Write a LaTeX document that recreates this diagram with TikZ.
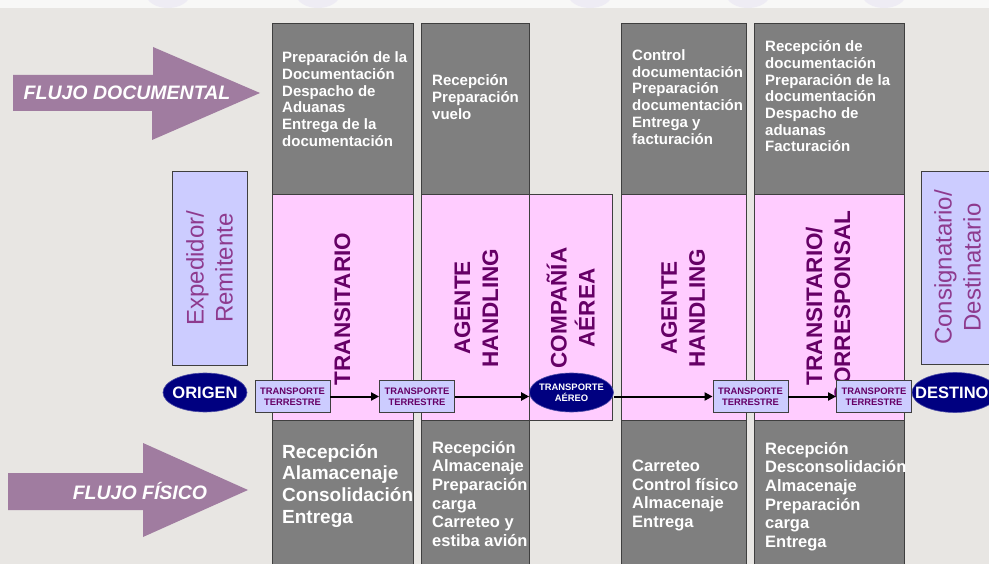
\documentclass[tikz,border=0pt]{standalone}
\usepackage{fontspec}
\setmainfont{Liberation Sans}
\usetikzlibrary{arrows.meta,shapes.geometric}

\definecolor{bgstone}{HTML}{E8E6E3}
\definecolor{slate}{HTML}{7F7F7F}
\definecolor{rose}{HTML}{FFCCFF}
\definecolor{lilac}{HTML}{CCCCFF}
\definecolor{plum}{HTML}{660066}
\definecolor{orchid}{HTML}{8E3A8E}
\definecolor{navyfill}{HTML}{000080}
\definecolor{mauve}{HTML}{A07CA0}
\definecolor{edge}{HTML}{3F3F3F}
\definecolor{haze}{HTML}{D8D2F0}

\begin{document}
\begin{tikzpicture}[x=1pt,y=-1pt,
  panel/.style={draw=edge,line width=0.8pt,anchor=north west,inner sep=0pt,outer sep=0pt},
  pinkcol/.style={panel,fill=rose},
  graycol/.style={panel,fill=slate},
  sidebox/.style={panel,fill=lilac},
  tasks/.style={anchor=north west,align=left,inner sep=0pt,text=white,
    font=\bfseries\fontsize{15}{16.7}\selectfont},
  tasksbig/.style={tasks,font=\bfseries\fontsize{16.5}{18.6}\selectfont},
  role/.style={rotate=90,align=center,inner sep=0pt,text=plum,
    font=\bfseries\fontsize{22.5}{28}\selectfont},
  party/.style={rotate=90,align=center,inner sep=0pt,text=orchid,
    font=\fontsize{24}{29}\selectfont},
  ttbox/.style={draw=edge,line width=0.8pt,fill=lilac,minimum width=75pt,minimum height=32pt,
    inner sep=0pt,align=center,text=plum,font=\bfseries\fontsize{9.4}{11}\selectfont},
  endpoint/.style={ellipse,draw=navyfill!70!white,line width=0.6pt,fill=navyfill,inner sep=0pt},
  flow/.style={line width=2pt,-{Triangle[length=8pt,width=8pt]}},
  bigarrow/.style={fill=mauve},
  bigtext/.style={text=white,inner sep=0pt,font=\bfseries\itshape\fontsize{19.5}{22}\selectfont}
]
\useasboundingbox (0,0) rectangle (989,564);

% stone background with a pale strip along the top
\fill[bgstone] (0,0) rectangle (989,564);
\fill[white!70!bgstone] (0,0) rectangle (989,8);
\foreach \cx in {168,318,590,748,884}
  \fill[haze,opacity=0.3] (\cx,-6) ellipse [x radius=22pt, y radius=14pt];

% flow arrows on the left
\fill[bigarrow] (13,75) -- (153,75) -- (153,47) -- (260,93) -- (152,140) -- (152,111) -- (13,111) -- cycle;
\node[bigtext] (fdoc) at (127,93) {FLUJO DOCUMENTAL};
\fill[bigarrow] (8,473) -- (143,473) -- (143,443) -- (248,490) -- (143,537) -- (143,510) -- (8,510) -- cycle;
\node[bigtext] (ffis) at (140,491) {FLUJO FÍSICO};

% sender and consignee panels
\node[sidebox,minimum width=75pt,minimum height=194pt] (exp) at (172,171) {};
\node[party] (expt) at (exp.center) {Expedidor/\\Remitente};
\node[sidebox,minimum width=75pt,minimum height=193pt] (cons) at (921,171) {};
\node[party] (const) at ([xshift=-1pt]cons.center) {Consignatario/\\Destinatario};

% pink middle bands
\node[pinkcol,minimum width=141pt,minimum height=226pt] (p1) at (272,194) {};
\node[pinkcol,minimum width=108pt,minimum height=226pt] (p2) at (421,194) {};
\node[pinkcol,minimum width=83pt,minimum height=226pt]  (p3) at (529,194) {};
\node[pinkcol,minimum width=125pt,minimum height=226pt] (p4) at (621,194) {};
\node[pinkcol,minimum width=150pt,minimum height=226pt] (p5) at (754,194) {};

% grey document tasks (top) and physical tasks (bottom)
\node[graycol,minimum width=141pt,minimum height=171pt] (g1) at (272,23) {};
\node[graycol,minimum width=108pt,minimum height=171pt] (g2) at (421,23) {};
\node[graycol,minimum width=125pt,minimum height=171pt] (g4) at (621,23) {};
\node[graycol,minimum width=150pt,minimum height=171pt] (g5) at (754,23) {};
\node[graycol,minimum width=141pt,minimum height=160pt] (h1) at (272,420) {};
\node[graycol,minimum width=108pt,minimum height=160pt] (h2) at (421,420) {};
\node[graycol,minimum width=125pt,minimum height=160pt] (h4) at (621,420) {};
\node[graycol,minimum width=150pt,minimum height=160pt] (h5) at (754,420) {};

\node[tasks] (d1) at (282,51.5) {Preparación de la\\Documentación\\Despacho de\\Aduanas\\Entrega de la\\documentación};
\node[tasks] (d2) at (432,74.5) {Recepción\\Preparación\\vuelo};
\node[tasks] (d4) at (632,49.5) {Control\\documentación\\Preparación\\documentación\\Entrega y\\facturación};
\node[tasks] (d5) at (765,40.5) {Recepción de\\documentación\\Preparación de la\\documentación\\Despacho de\\aduanas\\Facturación};

\node[tasks,font=\bfseries\fontsize{19}{21.8}\selectfont] (f1) at (282,444) {Recepción\\Alamacenaje\\Consolidación\\Entrega};
\node[tasksbig] (f2) at (432,441) {Recepción\\Almacenaje\\Preparación\\carga\\Carreteo y\\estiba avión};
\node[tasksbig] (f4) at (632,460) {Carreteo\\Control físico\\Almacenaje\\Entrega};
\node[tasksbig] (f5) at (765,442) {Recepción\\Desconsolidación\\Almacenaje\\Preparación\\carga\\Entrega};

% role titles
\node[role] (r1) at ([yshift=-2pt]p1.center) {TRANSITARIO};
\node[role] (r2) at ([xshift=1.5pt,yshift=-1pt]p2.center) {AGENTE\\HANDLING};
\node[role] (r3) at ([yshift=-1pt]p3.center) {COMPAÑÍA\\AÉREA};
\node[role] (r4) at ([xshift=-0.5pt,yshift=-1pt]p4.center) {AGENTE\\HANDLING};
\node[role] (r5) at ([xshift=-1pt,yshift=1pt]p5.center) {TRANSITARIO/\\CORRESPONSAL};

% transport chain
\node[endpoint,minimum width=84pt,minimum height=39pt] (origen) at (205,392.5) {};
\node[text=white,inner sep=0pt,font=\bfseries\fontsize{16.5}{18}\selectfont] (origent) at (origen.center) {ORIGEN};
\node[ttbox] (tt1) at (292.5,396.5) {TRANSPORTE\\TERRESTRE};
\node[ttbox] (tt2) at (417,396.5) {TRANSPORTE\\TERRESTRE};
\node[endpoint,minimum width=84pt,minimum height=39pt] (aereo) at (571.5,392.5) {};
\node[align=center,text=white,inner sep=0pt,font=\bfseries\fontsize{9.4}{11}\selectfont] (aereot) at (aereo.center) {TRANSPORTE\\AÉREO};
\node[ttbox] (tt3) at (750.5,396.5) {TRANSPORTE\\TERRESTRE};
\node[ttbox] (tt4) at (874,396.5) {TRANSPORTE\\TERRESTRE};
\node[endpoint,minimum width=86pt,minimum height=40pt] (destino) at (955,392.5) {};
\node[anchor=west,text=white,inner sep=0pt,font=\bfseries\fontsize{16.5}{18}\selectfont] (destinot) at (915,392.5) {DESTINO};

\draw[flow] (tt1.east) -- (tt2.west);
\draw[flow] (tt2.east) -- (tt2.east -| aereo.west);
\draw[flow] (aereo.east |- tt3.west) -- (tt3.west);
\draw[flow] (tt3.east) -- (tt4.west);
\end{tikzpicture}
\end{document}
